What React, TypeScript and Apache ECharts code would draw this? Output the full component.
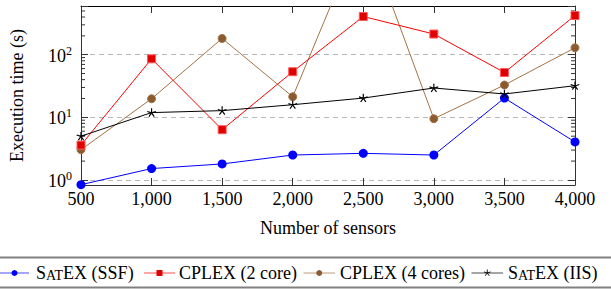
import React, { useEffect, useRef } from 'react';
import * as echarts from 'echarts';

const sensors = [500, 1000, 1500, 2000, 2500, 3000, 3500, 4000];
const satexSSF = [0.84, 1.52, 1.8, 2.5, 2.66, 2.5, 20.3, 4.04];
const cplex2 = [3.6, 86, 6.35, 53.5, 408, 214, 52, 423];
const cplex4 = [3.04, 19.8, 182, 21.3, 10700, 9.5, 32.8, 129];
const satexIIS = [5.0, 11.9, 12.8, 15.9, 20.3, 29.4, 23.6, 32];
const yMinorTicks = [2, 3, 4, 5, 6, 7, 8, 9, 20, 30, 40, 50, 60, 70, 80, 90, 200, 300, 400, 500];

const X_MIN = 500;
const X_MAX = 4000;
const Y_MIN = 0.83;
const Y_MAX = 600;

const FONT = 'Liberation Serif';

function starPath(): string {
  const r = 10;
  const w = 1.3;
  let d = '';
  for (let k = 0; k < 5; k++) {
    const a = ((-90 + 72 * k) * Math.PI) / 180;
    const dx = Math.cos(a), dy = Math.sin(a);
    const nx = -dy * w, ny = dx * w;
    const tx = dx * r, ty = dy * r;
    const p = (x: number, y: number) => `${(x + 10).toFixed(3)} ${(y + 10).toFixed(3)}`;
    d += `M${p(nx, ny)} L${p(tx + nx, ty + ny)} L${p(tx - nx, ty - ny)} L${p(-nx, -ny)} Z `;
  }
  return 'path://' + d;
}

function pairs(vals: number[]) {
  return sensors.map((x, i) => [x, vals[i]]);
}

export default function App() {
  const ref = useRef<HTMLDivElement>(null);
  useEffect(() => {
    if (!ref.current) return;
    const chart = echarts.init(ref.current, undefined, { renderer: 'svg' });
    const star = starPath();

    const legendY = 273;
    const legendItems = [
      { x1: 0, x2: 29, text: '{n|S}{c|AT}{n|EX (SSF)}', tx: 36, color: '#0000ff', mark: 'circle', fill: '#0000ff' },
      { x1: 144, x2: 175, text: '{n|CPLEX (2 core)}', tx: 179, color: '#ff0000', mark: 'rect', fill: '#e00000' },
      { x1: 303.5, x2: 335, text: '{n|CPLEX (4 cores)}', tx: 340, color: '#a47344', mark: 'circle', fill: '#8a5a30' },
      { x1: 471.5, x2: 503, text: '{n|S}{c|AT}{n|EX (IIS)}', tx: 508, color: '#000000', mark: 'star', fill: '#000' },
    ];
    const graphics: any[] = [
      { type: 'line', shape: { x1: 0, y1: 257.5, x2: 611, y2: 257.5 }, style: { stroke: '#808080', lineWidth: 2 } },
      { type: 'line', shape: { x1: 0, y1: 287.5, x2: 611, y2: 287.5 }, style: { stroke: '#808080', lineWidth: 2 } },
    ];
    legendItems.forEach((it) => {
      const cx = (it.x1 + it.x2) / 2;
      graphics.push({ type: 'line', shape: { x1: it.x1, y1: legendY, x2: it.x2, y2: legendY }, style: { stroke: it.color, lineWidth: 1, opacity: 0.7 } });
      if (it.mark === 'circle') {
        graphics.push({ type: 'circle', shape: { cx, cy: legendY, r: 3 }, style: { fill: it.fill } });
      } else if (it.mark === 'rect') {
        graphics.push({ type: 'rect', shape: { x: cx - 3, y: legendY - 3, width: 6, height: 6 }, style: { fill: it.fill } });
      } else {
        for (let k = 0; k < 5; k++) {
          const a = ((-90 + 72 * k) * Math.PI) / 180;
          graphics.push({ type: 'line', shape: { x1: cx, y1: legendY, x2: cx + 3.5 * Math.cos(a), y2: legendY + 3.5 * Math.sin(a) }, style: { stroke: '#000', lineWidth: 0.9 } });
        }
      }
      graphics.push({
        type: 'text', x: it.tx, y: legendY,
        style: {
          text: it.text, verticalAlign: 'middle', align: 'left', fill: '#000',
          rich: {
            n: { fontSize: 18, fontFamily: FONT, fill: '#000', verticalAlign: 'bottom' },
            c: { fontSize: 14, fontFamily: FONT, fill: '#000', verticalAlign: 'bottom' },
          },
        },
      });
    });

    const axisColor = '#333';
    const option: any = {
      animation: false,
      backgroundColor: '#fff',
      grid: { left: 81, right: 36, top: 6, bottom: 104, containLabel: false },
      xAxis: [
        {
          type: 'value', min: X_MIN, max: X_MAX, interval: 500, position: 'bottom',
          name: 'Number of sensors', nameLocation: 'middle', nameGap: 34,
          nameTextStyle: { fontFamily: FONT, fontSize: 18, color: '#000' },
          axisLine: { onZero: false, lineStyle: { color: axisColor, width: 1 } },
          axisTick: { inside: true, length: 7, lineStyle: { color: axisColor } },
          axisLabel: {
            margin: 5, fontFamily: FONT, fontSize: 18, color: '#000',
            formatter: (v: number) => v.toLocaleString('en-US'),
          },
          splitLine: { show: false },
        },
        {
          type: 'value', min: X_MIN, max: X_MAX, interval: 500, position: 'top',
          axisLine: { onZero: false, lineStyle: { color: '#000', width: 1 } },
          axisTick: { inside: true, length: 7, lineStyle: { color: axisColor } },
          axisLabel: { show: false },
          splitLine: { show: false },
        },
      ],
      yAxis: [
        {
          type: 'log', logBase: 10, min: Y_MIN, max: Y_MAX, position: 'left',
          name: 'Execution time (s)', nameLocation: 'middle', nameGap: 55,
          nameTextStyle: { fontFamily: FONT, fontSize: 18, color: '#000' },
          axisLine: { onZero: false, lineStyle: { color: axisColor, width: 1 } },
          axisTick: { inside: true, length: 7, lineStyle: { color: axisColor } },
          axisLabel: {
            margin: 9, color: '#000',
            formatter: (v: number) => {
              const e = Math.log10(v);
              const r = Math.round(e);
              if (Math.abs(e - r) > 1e-6) return '';
              return `{b|10}{s|${r}}`;
            },
            rich: {
              b: { fontFamily: FONT, fontSize: 18, verticalAlign: 'bottom', color: '#000' },
              s: { fontFamily: FONT, fontSize: 12, verticalAlign: 'bottom', padding: [0, 0, 8, 0], color: '#000' },
            },
          },
          splitLine: { show: true, showMinLine: false, showMaxLine: false, lineStyle: { color: '#b8b8b8', type: [5, 4], width: 1 } },
        },
        {
          type: 'log', logBase: 10, min: Y_MIN, max: Y_MAX, position: 'right',
          axisLine: { onZero: false, lineStyle: { color: axisColor, width: 1 } },
          axisTick: { inside: true, length: 7, lineStyle: { color: axisColor } },
          axisLabel: { show: false },
          splitLine: { show: false },
        },
      ],
      series: [
        {
          name: 'minor ticks', type: 'custom', xAxisIndex: 0, yAxisIndex: 0, silent: true,
          data: yMinorTicks.map((v) => [X_MIN, v]),
          renderItem: (params: any, api: any) => {
            const v = api.value(1);
            const pl = api.coord([X_MIN, v]);
            const pr = api.coord([X_MAX, v]);
            return {
              type: 'group',
              children: [
                { type: 'line', shape: { x1: pl[0], y1: pl[1], x2: pl[0] + 4, y2: pl[1] }, style: { stroke: axisColor, lineWidth: 1 } },
                { type: 'line', shape: { x1: pr[0], y1: pr[1], x2: pr[0] - 4, y2: pr[1] }, style: { stroke: axisColor, lineWidth: 1 } },
              ],
            };
          },
          z: 1,
        },
        {
          name: 'SATEX (SSF)', type: 'line', data: pairs(satexSSF), symbol: 'circle', symbolSize: 9,
          lineStyle: { color: '#0000ff', width: 1 }, itemStyle: { color: '#0000ff' }, z: 5,
        },
        {
          name: 'CPLEX (2 core)', type: 'line', data: pairs(cplex2), symbol: 'rect', symbolSize: 8,
          lineStyle: { color: '#ff0000', width: 1 }, itemStyle: { color: '#e00000', borderColor: '#ff5a5a', borderWidth: 1 }, z: 4,
        },
        {
          name: 'CPLEX (4 cores)', type: 'line', data: pairs(cplex4), symbol: 'circle', symbolSize: 8,
          lineStyle: { color: '#a47344', width: 1 }, itemStyle: { color: '#8a5a30', borderColor: '#a47344', borderWidth: 1 }, z: 3,
        },
        {
          name: 'SATEX (IIS)', type: 'line', data: pairs(satexIIS), symbol: star, symbolSize: 9, symbolKeepAspect: true,
          lineStyle: { color: '#000', width: 1 }, itemStyle: { color: '#000' }, z: 6,
        },
      ],
      graphic: graphics,
    };
    chart.setOption(option);
    return () => chart.dispose();
  }, []);
  return <div ref={ref} style={{ position: 'fixed', left: 0, top: 0, width: 611, height: 289 }} />;
}
